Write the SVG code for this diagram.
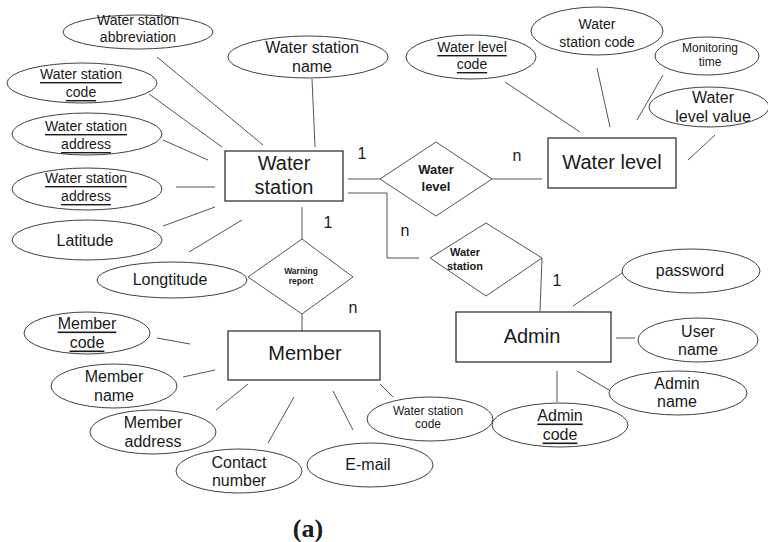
<svg xmlns="http://www.w3.org/2000/svg" width="768" height="542" viewBox="0 0 768 542">
<style>
text{font-family:"Liberation Sans",Arial,sans-serif;fill:#1a1a1a;text-anchor:middle;dominant-baseline:central}
.e{fill:#fff;stroke:#404040;stroke-width:1}
.b{fill:#fff;stroke:#222;stroke-width:1.2}
.d{fill:#fff;stroke:#555;stroke-width:1}
.c line,.c polyline{stroke:#555;stroke-width:1;fill:none}
.s14{font-size:14px}.s16{font-size:16px}.s12{font-size:12px}.s20{font-size:20px}
.u{text-decoration:underline}
.bd{font-weight:bold}
.card{font-size:16px}
</style>
<rect width="768" height="542" fill="#fff"/>
<g class="c" id="connectors">
<line x1="157" y1="57" x2="263" y2="145"/>
<line x1="312" y1="79" x2="315" y2="147"/>
<line x1="149" y1="94" x2="222" y2="147"/>
<line x1="163" y1="140" x2="208" y2="160"/>
<line x1="176" y1="187" x2="215" y2="187"/>
<line x1="163" y1="226" x2="215" y2="207"/>
<line x1="189" y1="252" x2="242" y2="220"/>
<line x1="348" y1="179" x2="380" y2="179"/>
<polyline points="348,193 387,193 387,258 419,258"/>
<line x1="492" y1="179" x2="542" y2="179"/>
<line x1="302" y1="207" x2="302" y2="239"/>
<line x1="302" y1="314" x2="302" y2="331"/>
<line x1="542" y1="258" x2="540" y2="311"/>
<line x1="505" y1="82" x2="580" y2="132"/>
<line x1="597" y1="68" x2="610" y2="127"/>
<line x1="663" y1="75" x2="637" y2="120"/>
<line x1="715" y1="135" x2="688" y2="160"/>
<line x1="573" y1="306" x2="622" y2="273"/>
<line x1="616" y1="338" x2="635" y2="338"/>
<line x1="577" y1="371" x2="609" y2="390"/>
<line x1="557" y1="371" x2="557" y2="402"/>
<line x1="157" y1="338" x2="190" y2="344"/>
<line x1="183" y1="377" x2="215" y2="370"/>
<line x1="216" y1="410" x2="248" y2="384"/>
<line x1="268" y1="443" x2="294" y2="397"/>
<line x1="333" y1="391" x2="353" y2="430"/>
<line x1="380" y1="384" x2="393" y2="397"/>
</g>
<g id="ws-abbr"><ellipse class="e" cx="138" cy="32" rx="75" ry="17"/><text class="s14" x="138" y="20">Water station</text><text class="s14" x="138" y="37">abbreviation</text></g>
<g id="ws-name"><ellipse class="e" cx="308" cy="57" rx="80" ry="21"/><text class="s16" x="312" y="47">Water station</text><text class="s16" x="312" y="66">name</text></g>
<g id="ws-code"><ellipse class="e" cx="82" cy="83" rx="75" ry="20"/><text class="s14 u" x="81" y="74">Water station</text><text class="s14 u" x="81" y="92">code</text></g>
<g id="ws-addr1"><ellipse class="e" cx="87" cy="134" rx="75" ry="21"/><text class="s14 u" x="86" y="126">Water station</text><text class="s14 u" x="86" y="144">address</text></g>
<g id="ws-addr2"><ellipse class="e" cx="87" cy="189" rx="75" ry="21"/><text class="s14 u" x="86" y="178">Water station</text><text class="s14 u" x="86" y="196">address</text></g>
<g id="latitude"><ellipse class="e" cx="87" cy="240" rx="75" ry="20"/><text class="s16" x="85" y="240">Latitude</text></g>
<g id="longtitude"><ellipse class="e" cx="172" cy="280" rx="75" ry="18"/><text class="s16" x="170" y="279">Longtitude</text></g>
<g id="water-station"><rect class="b" x="225" y="151" width="118" height="50"/><text class="s20" x="284" y="163">Water</text><text class="s20" x="284" y="187">station</text></g>
<g id="rel-water-level"><polygon class="d" points="380,179 436,142 492,179 436,216"/><text class="bd" font-size="13" x="436" y="169">Water</text><text class="bd" font-size="13" x="436" y="186">level</text></g>
<g id="water-level"><rect class="b" x="548" y="138" width="128" height="50"/><text class="s20" x="612" y="162">Water level</text></g>
<g id="wl-code"><ellipse class="e" cx="471" cy="57" rx="65" ry="22"/><text class="s14 u" x="472" y="47">Water level</text><text class="s14 u" x="472" y="64">code</text></g>
<g id="wl-ws-code"><ellipse class="e" cx="597" cy="31" rx="66" ry="24"/><text class="s14" x="597" y="24">Water</text><text class="s14" x="597" y="42">station code</text></g>
<g id="monitoring"><ellipse class="e" cx="707" cy="56" rx="52" ry="19"/><text class="s12" x="710" y="48">Monitoring</text><text class="s12" x="710" y="62">time</text></g>
<g id="wl-value"><ellipse class="e" cx="709" cy="107" rx="60" ry="20"/><text class="s16" x="713" y="97">Water</text><text class="s16" x="713" y="116">level value</text></g>
<g id="rel-water-station"><polygon class="d" points="430,258 486,223 542,258 486,296"/><text class="bd" font-size="11" x="465" y="252">Water</text><text class="bd" font-size="11" x="465" y="266">station</text></g>
<g id="rel-warning"><polygon class="d" points="248,277 302,239 353,277 302,314"/><text class="bd" font-size="8.5" x="301" y="271">Warning</text><text class="bd" font-size="8.5" x="301" y="281">report</text></g>
<g id="admin"><rect class="b" x="456" y="312" width="155" height="50"/><text class="s20" x="532" y="336">Admin</text></g>
<g id="password"><ellipse class="e" cx="691" cy="271" rx="69" ry="22"/><text class="s16" x="690" y="270">password</text></g>
<g id="user-name"><ellipse class="e" cx="698" cy="340" rx="60" ry="22"/><text class="s16" x="698" y="331">User</text><text class="s16" x="698" y="349">name</text></g>
<g id="admin-name"><ellipse class="e" cx="678" cy="393" rx="69" ry="22"/><text class="s16" x="677" y="383">Admin</text><text class="s16" x="677" y="401">name</text></g>
<g id="admin-code"><ellipse class="e" cx="560" cy="425" rx="68" ry="22"/><text class="s16 u" x="560" y="415">Admin</text><text class="s16 u" x="560" y="434">code</text></g>
<g id="member"><rect class="b" x="228" y="331" width="152" height="49"/><text class="s20" x="305" y="353">Member</text></g>
<g id="m-ws-code"><ellipse class="e" cx="430" cy="419" rx="63" ry="22"/><text class="s12" x="428" y="411">Water station</text><text class="s12" x="428" y="424">code</text></g>
<g id="email"><ellipse class="e" cx="370" cy="465" rx="63" ry="22"/><text class="s16" x="368" y="464">E-mail</text></g>
<g id="member-code"><ellipse class="e" cx="87" cy="333" rx="63" ry="21"/><text class="s16 u" x="87" y="323">Member</text><text class="s16 u" x="87" y="342">code</text></g>
<g id="member-name"><ellipse class="e" cx="114" cy="386" rx="63" ry="22"/><text class="s16" x="114" y="376">Member</text><text class="s16" x="114" y="395">name</text></g>
<g id="member-address"><ellipse class="e" cx="153" cy="432" rx="63" ry="22"/><text class="s16" x="153" y="422">Member</text><text class="s16" x="153" y="441">address</text></g>
<g id="contact"><ellipse class="e" cx="239" cy="471" rx="63" ry="22"/><text class="s16" x="239" y="462">Contact</text><text class="s16" x="239" y="480">number</text></g>
<g id="cardinalities">
<text class="card" x="362" y="153">1</text>
<text class="card" x="517" y="155">n</text>
<text class="card" x="328" y="222">1</text>
<text class="card" x="405" y="230">n</text>
<text class="card" x="557" y="280">1</text>
<text class="card" x="353" y="307">n</text>
</g>
<text x="308" y="528" font-family="'Liberation Serif','Times New Roman',serif" font-weight="bold" font-size="26" style="font-family:'Liberation Serif','Times New Roman',serif">(a)</text>
</svg>
